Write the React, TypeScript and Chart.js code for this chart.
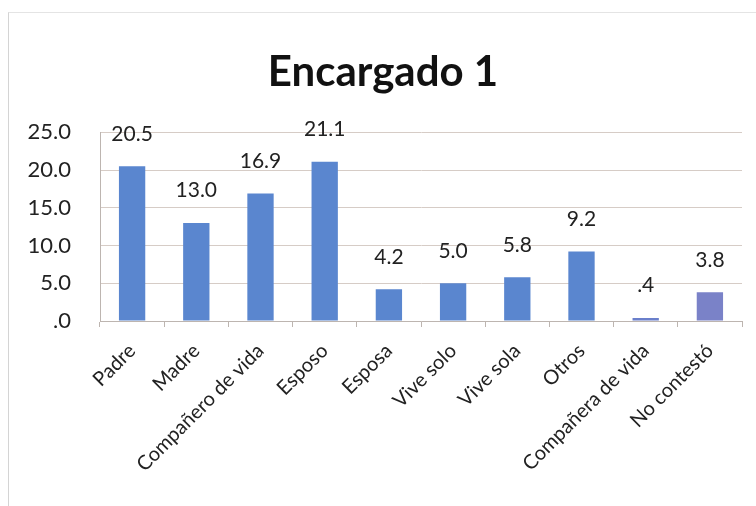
import React, { useEffect, useRef } from "react";
import { Chart, registerables } from "chart.js";

Chart.register(...registerables);

const categories = [
  "Padre",
  "Madre",
  "Compañero de vida",
  "Esposo",
  "Esposa",
  "Vive solo",
  "Vive sola",
  "Otros",
  "Compañera de vida",
  "No contestó",
];
const values = [20.5, 13.0, 16.9, 21.1, 4.2, 5.0, 5.8, 9.2, 0.4, 3.8];
const barColors = [
  "#5a86cf", "#5a86cf", "#5a86cf", "#5a86cf", "#5a86cf",
  "#5a86cf", "#5a86cf", "#5a86cf", "#6a7fcb", "#7a82c8",
];
const yTicks = [0, 5, 10, 15, 20, 25];
const title = "Encargado 1";

const fmt = (v: number) => {
  const s = v.toFixed(1);
  return s.startsWith("0") ? s.slice(1) : s;
};

const FONT = "Lato, 'Open Sans', sans-serif";

const labelPlugin = {
  id: "valueLabels",
  afterDatasetsDraw(chart: any) {
    const ctx = chart.ctx;
    const meta = chart.getDatasetMeta(0);
    ctx.save();
    ctx.font = `21px ${FONT}`;
    ctx.fillStyle = "#222";
    ctx.textAlign = "center";
    ctx.textBaseline = "bottom";
    meta.data.forEach((bar: any, i: number) => {
      ctx.fillText(fmt(values[i]), bar.x, bar.y - 22);
    });
    ctx.restore();
  },
};

export default function App() {
  const ref = useRef<HTMLCanvasElement | null>(null);
  useEffect(() => {
    if (!ref.current) return;
    const chart = new Chart(ref.current, {
      type: "bar",
      data: {
        labels: categories,
        datasets: [
          {
            data: values,
            backgroundColor: barColors,
            barPercentage: 0.41,
            categoryPercentage: 1,
          },
        ],
      },
      options: {
        animation: false,
        responsive: false,
        layout: { padding: { top: 10, right: 14, left: 24, bottom: 0 } },
        plugins: {
          legend: { display: false },
          tooltip: { enabled: false },
          title: {
            display: true,
            text: title,
            color: "#111",
            font: { family: FONT, size: 42, weight: "bold" },
            padding: { top: 37, bottom: 35 },
          },
        },
        scales: {
          x: {
            grid: {
              display: true,
              drawOnChartArea: false,
              offset: true,
              tickLength: 6,
              color: "#bdb5b0",
            },
            border: { color: "#bdb5b0" },
            ticks: {
              color: "#222",
              padding: 12,
              font: { family: FONT, size: 20 },
              maxRotation: 45,
              minRotation: 45,
              autoSkip: false,
            },
            afterFit: (s: any) => {
              s.height = 185;
            },
          },
          y: {
            min: 0,
            max: 25,
            afterBuildTicks: (s: any) => {
              s.ticks = yTicks.map((v) => ({ value: v }));
            },
            grid: { color: "#d6ccc6", drawTicks: false },
            border: { display: true, color: "#bdb5b0" },
            ticks: {
              color: "#222",
              padding: 29,
              font: { family: FONT, size: 22 },
              callback: (v: any) => fmt(Number(v)),
            },
            afterFit: (s: any) => {
              s.width = 76;
            },
          },
        },
      },
      plugins: [labelPlugin],
    });
    return () => chart.destroy();
  }, []);
  return (
    <div
      style={{
        position: "absolute",
        left: 0,
        top: 0,
        width: 756,
        height: 506,
        background: "#fff",
      }}
    >
      <div
        style={{
          position: "absolute",
          left: 8,
          top: 12,
          width: 748,
          height: 494,
          borderLeft: "1px solid #d4d4d4",
          borderTop: "1px solid #e4e4e4",
        }}
      />
      <canvas ref={ref} width={756} height={506} style={{ position: "absolute", left: 0, top: 0 }} />
    </div>
  );
}
